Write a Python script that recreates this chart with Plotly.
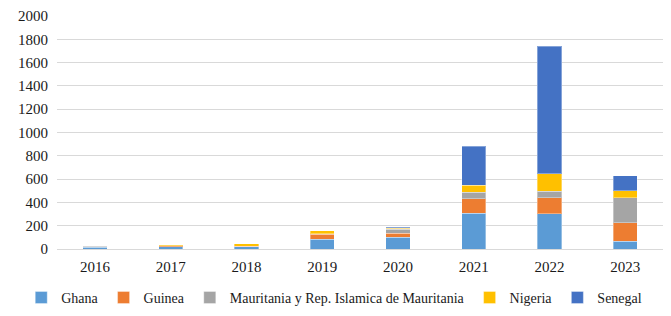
import plotly.graph_objects as go

years = ["2016", "2017", "2018", "2019", "2020", "2021", "2022", "2023"]
ghana = [15, 18, 20, 82, 103, 308, 302, 65]
guinea = [3, 9, 3, 45, 34, 123, 140, 160]
mauritania = [5, 2, 0, 5, 31, 57, 52, 215]
nigeria = [3, 9, 22, 25, 9, 60, 154, 60]
senegal = [0, 0, 0, 0, 9, 335, 1094, 128]

series = [
    ("Ghana", ghana, "#5B9BD5"),
    ("Guinea", guinea, "#ED7D31"),
    ("Mauritania y Rep. Islamica de Mauritania", mauritania, "#A5A5A5"),
    ("Nigeria", nigeria, "#FFC000"),
    ("Senegal", senegal, "#4472C4"),
]

FONT = "Liberation Serif"

fig = go.Figure()
for name, vals, col in series:
    fig.add_trace(go.Bar(
        x=years, y=vals, name=name,
        marker=dict(color=col, line=dict(color="rgba(255,255,255,0.35)", width=1)),
    ))

# page body has an 8px default margin, so the figure is 8px smaller each way
fig.update_layout(
    width=663, height=308,
    barmode="stack", bargap=0.68,
    plot_bgcolor="white", paper_bgcolor="white",
    margin=dict(l=49, r=8, t=8, b=67, autoexpand=False),
    font=dict(family=FONT, size=15, color="#1a1a1a"),
    legend=dict(orientation="h", x=-0.059, xanchor="left", y=-0.21, yanchor="middle",
                font=dict(family=FONT, size=14), itemwidth=30, traceorder="normal"),
    yaxis=dict(range=[0, 2000], dtick=200, showgrid=True, gridcolor="#d9d9d9",
               gridwidth=1, zeroline=True, zerolinecolor="#d9d9d9", zerolinewidth=1,
               ticks="", ticklen=0, fixedrange=True, ticklabelstandoff=8,
               tickfont=dict(family=FONT, size=15)),
    xaxis=dict(showgrid=False, ticks="", showline=True, linecolor="#d9d9d9",
               ticklabelstandoff=4, tickfont=dict(family=FONT, size=15)),
)

fig.write_html("out.html")
